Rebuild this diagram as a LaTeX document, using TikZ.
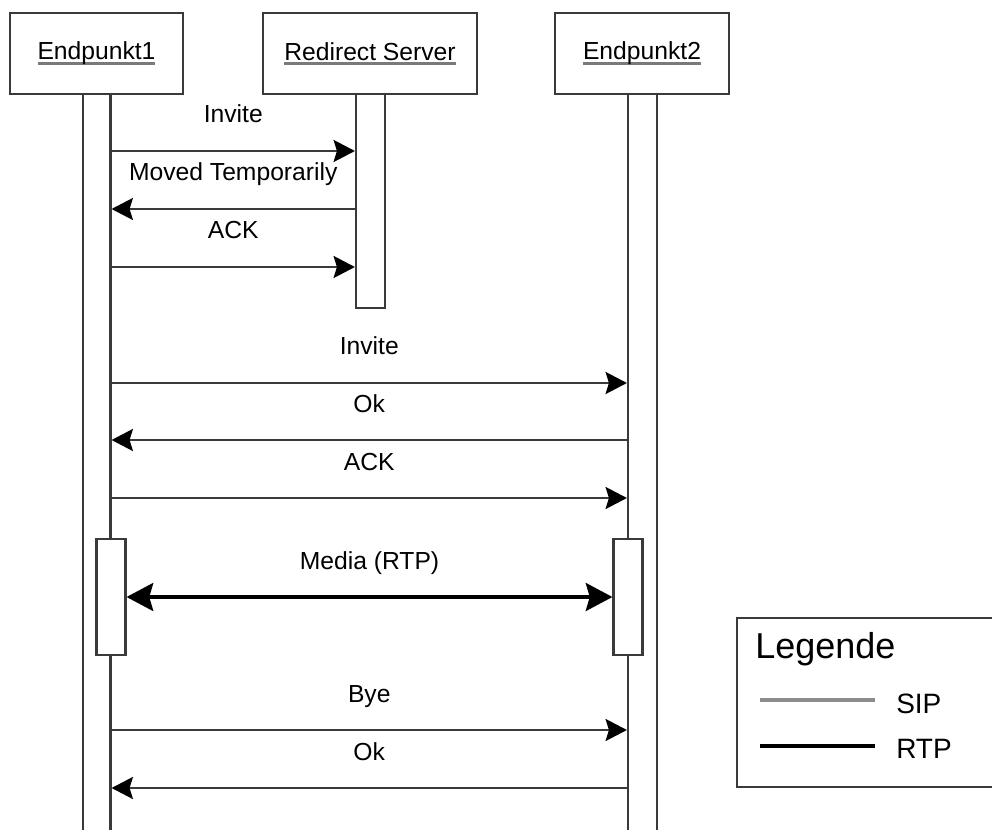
\documentclass[tikz,border=0pt]{standalone}
\usepackage{fontspec}
\setmainfont{Liberation Sans}
\usetikzlibrary{arrows.meta}

\definecolor{linegray}{HTML}{3A3A3A}
\definecolor{ulgray}{HTML}{7A7A7A}
\definecolor{sipgray}{HTML}{8C8C8C}

% participant name with a grey underline
\newsavebox\pnbox
\newcommand\ulname[1]{\sbox\pnbox{#1}%
  \rlap{\textcolor{ulgray}{\rule[-3.6pt]{\wd\pnbox}{2.2pt}}}\usebox\pnbox}

% one SIP message between two lifelines at a given row
\newcommand\sipmsg[4]{%
  \draw[sip] (#1 |- #3) -- node[msglabel]{#4} (#2 |- #3);}

\begin{document}
\begin{tikzpicture}[x=0.75pt,y=-0.75pt,
  every node/.style={font=\fontsize{18.5pt}{22pt}\selectfont, text=black},
  headbox/.style={draw=linegray, line width=1.6pt, fill=white,
    minimum height=60.75pt, inner sep=0pt},
  bar/.style={draw=linegray, line width=1.6pt, fill=white,
    minimum width=21.75pt, inner sep=0pt},
  sip/.style={draw=linegray, line width=1.6pt,
    -{Stealth[length=16pt,width=16.5pt,inset=2.5pt,color=black]}},
  rtp/.style={draw=black, line width=2.5pt,
    {Stealth[length=20pt,width=21pt,inset=3pt]}-{Stealth[length=20pt,width=21pt,inset=3pt]}},
  msglabel/.style={midway, anchor=base, yshift=21pt, inner sep=0pt},
  legendbox/.style={draw=linegray, line width=1.6pt, fill=white,
    minimum width=204.75pt, minimum height=126.75pt, inner sep=0pt},
  legendtext/.style={anchor=base west, inner sep=0pt,
    font=\fontsize{21pt}{24pt}\selectfont}
]
\clip (0,0) rectangle (992,830);
\fill[white] (0,0) rectangle (992,830);

% lifelines
\node[bar, minimum width=20.625pt, minimum height=559.5pt] (e1bar) at (96.75,467) {};
\node[bar, minimum height=559.5pt] (e2bar) at (642.5,467) {};
\node[bar, minimum height=160.5pt] (rsbar) at (370.5,201) {};

% participant heads
\node[headbox, minimum width=129.75pt] (e1box) at (96.5,53.5) {\ulname{Endpunkt1}};
\node[headbox, minimum width=160.5pt] (rsbox) at (370,53.5) {\ulname{Redirect Server}};
\node[headbox, minimum width=130.5pt] (e2box) at (642,53.5) {\ulname{Endpunkt2}};

% activations during the media session
\node[bar, minimum height=87pt] (e1act) at (111,597) {};
\node[bar, minimum height=87pt] (e2act) at (628,597) {};

% message rows
\coordinate (r1) at (0,151);
\coordinate (r2) at (0,209);
\coordinate (r3) at (0,267);
\coordinate (r4) at (0,383);
\coordinate (r5) at (0,440);
\coordinate (r6) at (0,498);
\coordinate (r8) at (0,730);
\coordinate (r9) at (0,788);

\sipmsg{e1bar.east}{rsbar.west}{r1}{Invite}
\sipmsg{rsbar.west}{e1bar.east}{r2}{Moved Temporarily}
\sipmsg{e1bar.east}{rsbar.west}{r3}{ACK}
\sipmsg{e1bar.east}{e2bar.west}{r4}{Invite}
\sipmsg{e2bar.west}{e1bar.east}{r5}{Ok}
\sipmsg{e1bar.east}{e2bar.west}{r6}{ACK}

\draw[rtp] (e1act.east) -- node[msglabel]{Media (RTP)} (e2act.west);

\sipmsg{e1bar.east}{e2bar.west}{r8}{Bye}
\sipmsg{e2bar.west}{e1bar.east}{r9}{Ok}

% legend
\node[legendbox] (legend) at (873.5,702.5) {};
\node[anchor=base west, inner sep=0pt, font=\fontsize{27pt}{30pt}\selectfont]
  (legtitle) at (755,658) {Legende};
\draw[sipgray, line width=2.6pt] (760,700) -- (875,700);
\draw[black, line width=2.6pt] (760,746) -- (875,746);
\node[legendtext] (legsip) at (896,713) {SIP};
\node[legendtext] (legrtp) at (896,758) {RTP};
\end{tikzpicture}
\end{document}
